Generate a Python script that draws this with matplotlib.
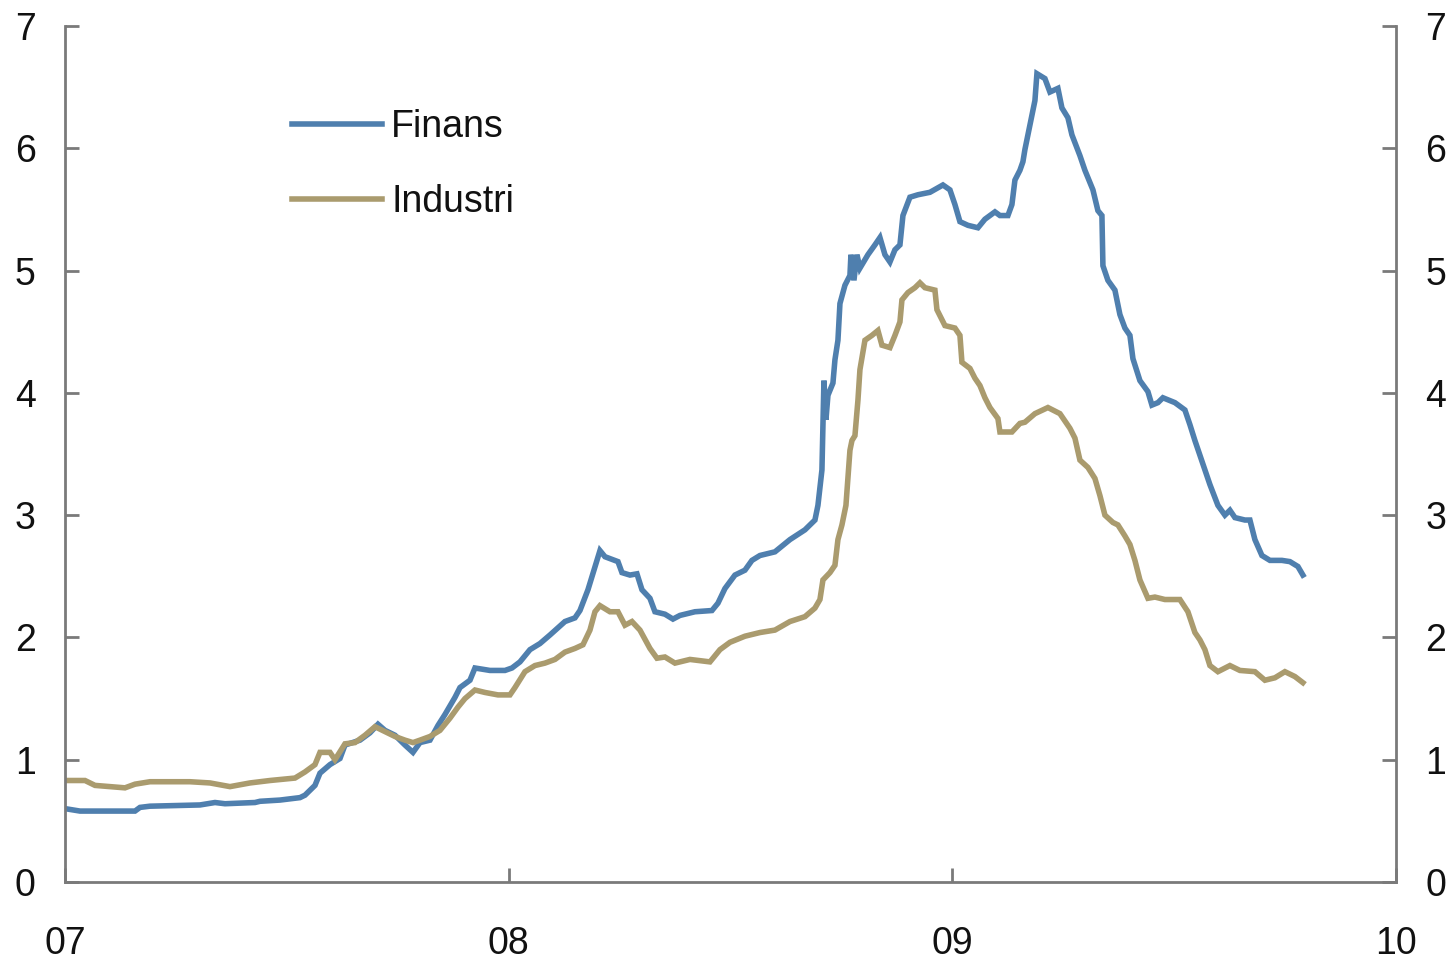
import matplotlib
matplotlib.use("Agg")
import matplotlib.pyplot as plt
import numpy as np

# x positions in years since start of 2007 (0 = "07", 1 = "08", ...)
tick_labels = ["07", "08", "09", "10"]
y_ticks = [0, 1, 2, 3, 4, 5, 6, 7]

finans_px = [65, 80, 135, 140, 150, 200, 215, 225, 255, 260, 280, 300, 305, 315, 320, 330, 340, 345, 360, 370,
             378, 385, 395, 405, 413, 420, 430, 438, 445, 455, 460, 470, 475, 490, 505, 512, 520, 530, 540, 550,
             565, 575, 580, 588, 594, 600, 605, 618, 622, 630, 637, 642, 650, 655, 665, 673, 680, 695, 712, 718,
             725, 735, 745, 752, 760, 775, 790, 805, 815, 818, 822, 824, 826, 828, 833, 835, 838, 840, 845, 850,
             851, 854, 857, 860, 868, 875, 880, 885, 890, 895, 900, 903, 910, 918, 930, 943, 950, 955, 960, 968,
             978, 985, 995, 1000, 1008, 1012, 1015, 1020, 1023, 1025, 1028, 1035, 1037, 1045, 1050, 1058, 1062,
             1068, 1072, 1080, 1085, 1090, 1093, 1098, 1102, 1103, 1108, 1115, 1120, 1125, 1130, 1133, 1140, 1148,
             1152, 1158, 1163, 1175, 1185, 1190, 1195, 1200, 1205, 1210, 1218, 1225, 1230, 1235, 1245, 1250, 1255,
             1262, 1270, 1282, 1290, 1298, 1303]
finans_vals = [0.60, 0.58, 0.58, 0.61, 0.62, 0.63, 0.65, 0.64, 0.65, 0.66, 0.67, 0.69, 0.71, 0.79, 0.89, 0.96, 1.01,
               1.12, 1.16, 1.22, 1.29, 1.24, 1.20, 1.12, 1.06, 1.14, 1.16, 1.28, 1.37, 1.51, 1.59, 1.65, 1.75, 1.73,
               1.73, 1.75, 1.80, 1.90, 1.95, 2.02, 2.13, 2.16, 2.22, 2.39, 2.55, 2.71, 2.66, 2.62, 2.53, 2.51, 2.52,
               2.39, 2.32, 2.21, 2.19, 2.15, 2.18, 2.21, 2.22, 2.28, 2.40, 2.51, 2.55, 2.63, 2.67, 2.70, 2.80, 2.88,
               2.96, 3.08, 3.37, 4.10, 3.78, 3.98, 4.08, 4.27, 4.43, 4.73, 4.88, 4.96, 5.13, 4.92, 5.13, 5.02, 5.13,
               5.21, 5.27, 5.13, 5.07, 5.17, 5.21, 5.45, 5.60, 5.62, 5.64, 5.70, 5.66, 5.54, 5.40, 5.37, 5.35, 5.42,
               5.48, 5.45, 5.45, 5.54, 5.74, 5.82, 5.89, 5.99, 6.11, 6.39, 6.61, 6.57, 6.46, 6.49, 6.33, 6.25, 6.11,
               5.94, 5.82, 5.72, 5.66, 5.49, 5.45, 5.04, 4.92, 4.84, 4.64, 4.53, 4.47, 4.28, 4.10, 4.01, 3.90, 3.92,
               3.96, 3.92, 3.86, 3.74, 3.61, 3.49, 3.37, 3.25, 3.08, 3.00, 3.04, 2.98, 2.96, 2.96, 2.80, 2.67, 2.63,
               2.63, 2.62, 2.58, 2.51]

industri_px = [65, 85, 95, 110, 125, 135, 150, 170, 190, 210, 230, 250, 270, 295, 305, 315, 320, 330, 335, 345, 355,
               365, 375, 385, 395, 405, 413, 420, 430, 440, 450, 458, 465, 475, 485, 498, 510, 515, 525, 535, 545,
               555, 565, 575, 583, 590, 595, 600, 610, 618, 625, 632, 640, 650, 657, 665, 675, 690, 710, 720, 730,
               745, 760, 775, 790, 805, 815, 820, 823, 830, 835, 838, 842, 846, 850, 852, 855, 858, 860, 865, 872,
               878, 882, 890, 895, 900, 902, 908, 915, 920, 925, 935, 937, 945, 955, 960, 962, 970, 975, 980, 985,
               990, 998, 1000, 1012, 1020, 1025, 1035, 1048, 1060, 1070, 1075, 1080, 1088, 1095, 1100, 1105, 1113,
               1118, 1125, 1130, 1135, 1140, 1148, 1155, 1165, 1180, 1188, 1195, 1200, 1205, 1210, 1218, 1230, 1240,
               1255, 1265, 1275, 1285, 1295, 1303]
industri_vals = [0.83, 0.83, 0.79, 0.78, 0.77, 0.80, 0.82, 0.82, 0.82, 0.81, 0.78, 0.81, 0.83, 0.85, 0.90, 0.96,
                 1.06, 1.06, 1.00, 1.13, 1.14, 1.20, 1.27, 1.23, 1.19, 1.16, 1.14, 1.16, 1.19, 1.24, 1.34, 1.43, 1.50,
                 1.57, 1.55, 1.53, 1.53, 1.59, 1.72, 1.77, 1.79, 1.82, 1.88, 1.91, 1.94, 2.06, 2.21, 2.26, 2.21, 2.21,
                 2.10, 2.13, 2.06, 1.91, 1.83, 1.84, 1.79, 1.82, 1.80, 1.90, 1.96, 2.01, 2.04, 2.06, 2.13, 2.17, 2.24,
                 2.31, 2.47, 2.53, 2.59, 2.80, 2.92, 3.08, 3.53, 3.61, 3.65, 3.94, 4.19, 4.43, 4.47, 4.51, 4.39, 4.37,
                 4.47, 4.58, 4.76, 4.82, 4.86, 4.90, 4.86, 4.84, 4.68, 4.55, 4.53, 4.47, 4.25, 4.20, 4.12, 4.06, 3.96,
                 3.88, 3.79, 3.68, 3.68, 3.75, 3.76, 3.83, 3.88, 3.83, 3.71, 3.63, 3.45, 3.39, 3.30, 3.16, 3.00, 2.94,
                 2.92, 2.83, 2.76, 2.63, 2.47, 2.32, 2.33, 2.31, 2.31, 2.21, 2.04, 1.98, 1.90, 1.77, 1.72, 1.77, 1.73,
                 1.72, 1.65, 1.67, 1.72, 1.68, 1.63]

# convert read-off horizontal positions to years
finans_t = (np.array(finans_px) - 65) / 443.7
industri_t = (np.array(industri_px) - 65) / 443.7

blue = "#4f7fae"
tan = "#aa9b6e"
spine_col = "#7a7a7a"

plt.rcParams['font.family'] = ['Liberation Sans', 'DejaVu Sans']

fig = plt.figure(figsize=(14.53, 9.64), dpi=100)
ax = fig.add_axes([65 / 1453, 82 / 964, 1331 / 1453, 856 / 964])

ax.plot(finans_t, finans_vals, color=blue, lw=4.0, label="Finans", solid_joinstyle="miter")
ax.plot(industri_t, industri_vals, color=tan, lw=4.0, label="Industri", solid_joinstyle="miter")

ax.set_xlim(0, 3)
ax.set_ylim(0, 7)
ax.set_xticks(range(len(tick_labels)))
ax.set_xticklabels(tick_labels)
ax.set_yticks(y_ticks)

for s in ["left", "bottom", "right"]:
    ax.spines[s].set_color(spine_col)
    ax.spines[s].set_linewidth(2.0)
ax.spines["top"].set_visible(False)

ax.tick_params(axis="both", direction="in", length=10, width=2.0, color=spine_col,
               labelsize=27, labelcolor="#111111")
ax.tick_params(axis="y", left=True, right=True, labelleft=True, labelright=True, pad=21)
ax.tick_params(axis="x", pad=32)

leg = ax.legend(loc="upper left", bbox_to_anchor=(0.1705, 0.903), frameon=False, fontsize=27,
                handlelength=2.4, handletextpad=0.25, labelspacing=1.05, borderpad=0, borderaxespad=0)
for t in leg.get_texts():
    t.set_color("#111111")

fig.savefig("out.png", dpi=100)
